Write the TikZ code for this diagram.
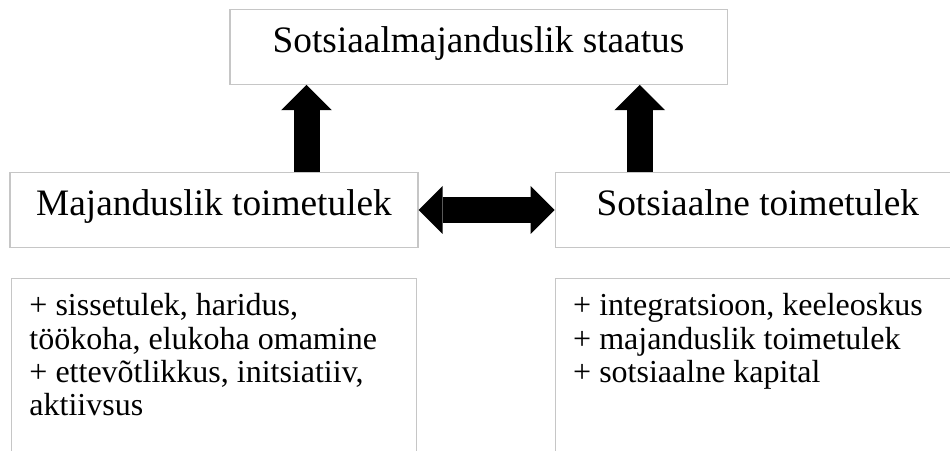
\documentclass[tikz,border=0pt]{standalone}
\usepackage{fontspec}
\setmainfont{Liberation Serif}
\usetikzlibrary{
        arrows.meta,
        positioning
    }
\tikzset{x=0.375pt,y=-0.375pt}
\tikzset{title box/.style={draw=gray!45,line width=0.4pt,inner sep=0pt,text height=16pt,text depth=12pt,font=\fontsize{14pt}{16pt}\selectfont}}
\tikzset{list box/.style={draw=gray!45,line width=0.4pt,align=flush left,text width=138.4pt,inner xsep=6.75pt,inner ysep=5.7pt,text depth=60pt,font=\fontsize{12pt}{12.5pt}\selectfont}}
\tikzset{block arrow/.style={line width=9.75pt,-{Triangle[width=19pt,length=9.5pt,line width=0pt]}}}
\tikzset{block double arrow/.style={line width=9.5pt,{Triangle[width=18pt,length=9pt,line width=0pt]}-{Triangle[width=18pt,length=9pt,line width=0pt]}}}

\begin{document}
\begin{tikzpicture}
            \useasboundingbox (0,0) rectangle (950,451);
            \node[title box][minimum width=186.4pt] (staatus) at (478.5,47) {Sotsiaalmajanduslik staatus};
            \node[title box][minimum width=153pt] (majandus) at (214,210) {Majanduslik toimetulek};
            \node[title box][minimum width=152pt] (sotsiaal) [right=51pt of majandus] {Sotsiaalne toimetulek};
            \node[list box] (majlist) [below=11.25pt of majandus] {+ sissetulek, haridus,\\ töökoha, elukoha omamine\\ + ettevõtlikkus, initsiatiiv,\\ aktiivsus};
            \node[list box] (sotlist) [below=11.25pt of sotsiaal] {+ integratsioon, keeleoskus\\ + majanduslik toimetulek\\ + sotsiaalne kapital};
            \path[block arrow]
                ([xshift=34.7pt]majandus.north) edge ([xshift=34.7pt]majandus.north |- staatus.south)
                ([xshift=-44.25pt]sotsiaal.north) edge ([xshift=-44.25pt]sotsiaal.north |- staatus.south)
            ;
            \path[block double arrow]
                (majandus.east) edge (majandus.east -| sotsiaal.west)
            ;
        \end{tikzpicture}
\end{document}
